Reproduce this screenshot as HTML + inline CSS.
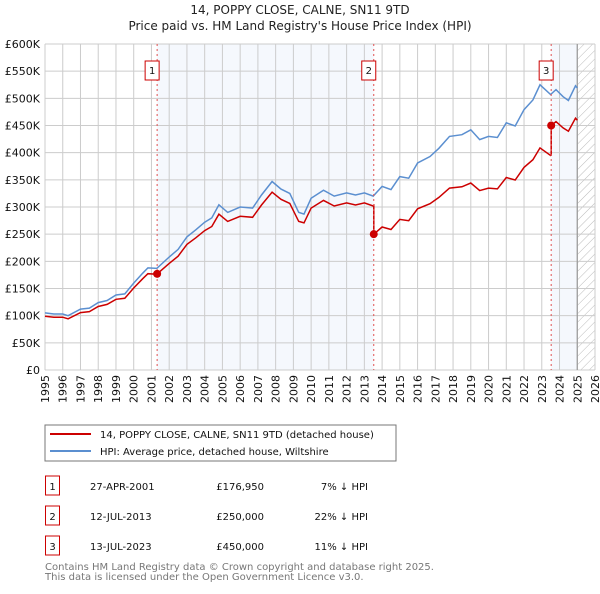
<!DOCTYPE html>
<html><head><meta charset="utf-8"><style>
body{margin:0;background:#fff;font-family:"DejaVu Sans","Liberation Sans",sans-serif;}
svg text{font-family:"DejaVu Sans","Liberation Sans",sans-serif;}
</style></head><body>
<svg id="c" width="600" height="590" viewBox="0 0 600 590" xmlns="http://www.w3.org/2000/svg">
<text x="300" y="14" text-anchor="middle" font-size="12" fill="#222">14, POPPY CLOSE, CALNE, SN11 9TD</text>
<text x="300" y="30" text-anchor="middle" font-size="12" fill="#222">Price paid vs. HM Land Registry's House Price Index (HPI)</text>
<defs><pattern id="hatch" width="6" height="6" patternUnits="userSpaceOnUse" patternTransform="rotate(45)"><line x1="0" y1="0" x2="0" y2="6" stroke="#bbb" stroke-width="1"/></pattern></defs>
<g id="plot"></g>
<rect x="45" y="425" width="351" height="36" fill="#fff" stroke="#777"/>
<line x1="50" y1="434" x2="91" y2="434" stroke="#cc0000" stroke-width="2"/>
<text x="100" y="438" font-size="10" fill="#111">14, POPPY CLOSE, CALNE, SN11 9TD (detached house)</text>
<line x1="50" y1="451" x2="91" y2="451" stroke="#5b8fd0" stroke-width="2"/>
<text x="100" y="455" font-size="10" fill="#111">HPI: Average price, detached house, Wiltshire</text>
<g id="tbl"></g>
<text x="45" y="570" font-size="10" fill="#777">Contains HM Land Registry data © Crown copyright and database right 2025.</text>
<text x="45" y="580" font-size="10" fill="#777">This data is licensed under the Open Government Licence v3.0.</text>
</svg>
<script>
const hpiYears=[1995,1995.5,1996,1996.3,1997,1997.5,1998,1998.5,1999,1999.5,2000,2000.5,2000.8,2001.3,2002,2002.5,2003,2003.5,2004,2004.4,2004.8,2005.3,2006,2006.7,2007.2,2007.8,2008.3,2008.8,2009.3,2009.6,2010,2010.7,2011.3,2012,2012.5,2013,2013.5,2014,2014.5,2015,2015.5,2016,2016.7,2017.2,2017.8,2018.5,2019,2019.5,2020,2020.5,2021,2021.5,2022,2022.5,2022.9,2023.5,2023.8,2024.2,2024.5,2024.9,2025];
const hpiValues=[105,103,103,100,112,114,124,128,138,140,160,178,188,187,208,222,245,258,272,280,304,290,300,298,322,347,333,325,290,287,316,331,320,326,322,326,320,338,332,356,353,381,393,408,430,433,442,424,430,428,455,449,479,497,525,507,516,503,496,523,519];
const saleDates=[2001.32,2013.53,2023.53];
const salePrices=[176.95,250,450];
const saleLabels=["1","2","3"];
const saleDateText=["27-APR-2001","12-JUL-2013","13-JUL-2023"];
const salePriceText=["£176,950","£250,000","£450,000"];
const salePctText=["7% ↓ HPI","22% ↓ HPI","11% ↓ HPI"];
const yTicks=[0,50,100,150,200,250,300,350,400,450,500,550,600];
const yTickLabels=["£0","£50K","£100K","£150K","£200K","£250K","£300K","£350K","£400K","£450K","£500K","£550K","£600K"];
const xTicks=[1995,1996,1997,1998,1999,2000,2001,2002,2003,2004,2005,2006,2007,2008,2009,2010,2011,2012,2013,2014,2015,2016,2017,2018,2019,2020,2021,2022,2023,2024,2025,2026];
const dataEnd=2025;

const L=45,R=595,T=44,B=370,X0=1995,X1=2026,Ymax=600;
const sx=v=>L+(v-X0)/(X1-X0)*(R-L);
const sy=v=>B-v/Ymax*(B-T);
const NS="http://www.w3.org/2000/svg";
function mk(p,tag,a){const e=document.createElementNS(NS,tag);for(const k in a)e.setAttribute(k,a[k]);p.appendChild(e);return e;}
function hpiAt(t){for(let i=1;i<hpiYears.length;i++){if(t<=hpiYears[i]){const f=(t-hpiYears[i-1])/(hpiYears[i]-hpiYears[i-1]);return hpiValues[i-1]+f*(hpiValues[i]-hpiValues[i-1]);}}return hpiValues[hpiValues.length-1];}
const g=document.getElementById('plot');
let r=mk(g,'rect',{x:sx(saleDates[0]),y:T,width:sx(saleDates[1])-sx(saleDates[0]),height:B-T,fill:'#eef3fc',opacity:'0.6'});


r=mk(g,'rect',{x:sx(saleDates[2]),y:T,width:sx(dataEnd)-sx(saleDates[2]),height:B-T,fill:'#eef3fc',opacity:'0.6'});


r=mk(g,'rect',{x:sx(dataEnd),y:T,width:R-sx(dataEnd),height:B-T,fill:'url(#hatch)'});


xTicks.forEach(t=>{const l=mk(g,'line',{x1:sx(t),x2:sx(t),y1:T,y2:B,stroke:'#ccc','stroke-width':1});


const tx=mk(g,'text',{x:0,y:0,'font-size':11,fill:'#111','text-anchor':'end',transform:`translate(${sx(t)+4},${B+5}) rotate(-90)`});tx.textContent=t;

});
yTicks.forEach((v,i)=>{const l=mk(g,'line',{x1:L,x2:R,y1:sy(v),y2:sy(v),stroke:'#ccc','stroke-width':1});


const tx=mk(g,'text',{x:L-5,y:sy(v)+4,'font-size':11,fill:'#111','text-anchor':'end'});tx.textContent=yTickLabels[i];

});
const dl=mk(g,'line',{x1:sx(dataEnd),x2:sx(dataEnd),y1:T,y2:B,stroke:'#999','stroke-width':1.2});


let d='';hpiYears.forEach((t,i)=>{d+=(i?'L':'M')+sx(t).toFixed(1)+','+sy(hpiValues[i]).toFixed(1);});
let p=mk(g,'path',{d:d,fill:'none',stroke:'#5b8fd0','stroke-width':1.5});


const ratios=saleDates.map((s,i)=>salePrices[i]/hpiAt(s));
function ratioAt(t){if(t<saleDates[1])return ratios[0];if(t<saleDates[2])return ratios[1];return ratios[2];}
const pts=[];
hpiYears.forEach((t,i)=>{
  for(let k=1;k<saleDates.length;k++){const s=saleDates[k];if(i>0&&hpiYears[i-1]<s&&t>=s){pts.push([s,hpiAt(s)*ratios[k-1]]);pts.push([s,salePrices[k]]);}}
  pts.push([t,hpiValues[i]*ratioAt(t)]);});
d='';pts.forEach((q,i)=>{d+=(i?'L':'M')+sx(q[0]).toFixed(1)+','+sy(q[1]).toFixed(1);});
p=mk(g,'path',{d:d,fill:'none',stroke:'#cc0000','stroke-width':1.5});


saleDates.forEach((s,i)=>{
  const l=mk(g,'line',{x1:sx(s),x2:sx(s),y1:T,y2:B,stroke:'#e05050','stroke-width':1,'stroke-dasharray':'2,3'});
  
  
  const c=mk(g,'circle',{cx:sx(s),cy:sy(salePrices[i]),r:4,fill:'#cc0000'});
  
  
  const b=mk(g,'rect',{x:sx(s)-12,y:61,width:14,height:19,fill:'#fff',stroke:'#cc0000','stroke-width':1});
  
  
  const tx=mk(g,'text',{x:sx(s)-5,y:74,'font-size':10,fill:'#111','text-anchor':'middle'});tx.textContent=saleLabels[i];
  
  
});
const tb=document.getElementById('tbl');
saleLabels.forEach((lab,i)=>{const y=476+i*30;
  const b=mk(tb,'rect',{x:45.5,y:y,width:14,height:19,fill:'#fff',stroke:'#cc0000'});
  
  
  const cols=[[52.5,lab,'middle'],[90,saleDateText[i],'start'],[264,salePriceText[i],'end'],[368,salePctText[i],'end']];
  cols.forEach((c,j)=>{const t=mk(tb,'text',{x:c[0],y:y+14,'font-size':10,fill:'#111','text-anchor':c[2]});t.textContent=c[1];
  
  });
});
</script>
</body></html>
